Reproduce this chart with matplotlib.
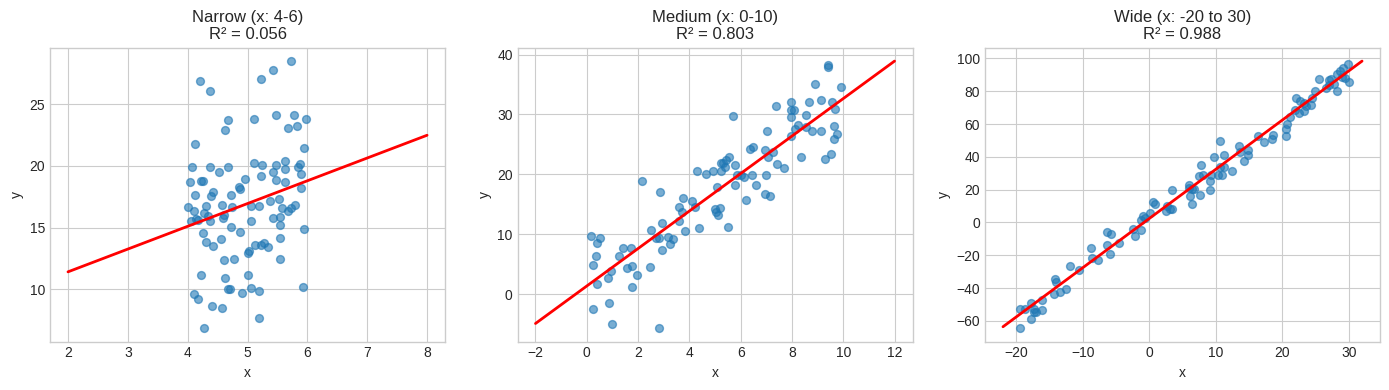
import matplotlib
matplotlib.use('Agg')
import matplotlib.pyplot as plt
import numpy as np

# 三组数据: 窄/中/宽 x 范围
narrow_x = [4.20, 4.38, 4.67, 4.63, 4.13, 4.08, 4.38, 4.67, 4.53, 4.04,
            4.23, 4.26, 4.13, 4.43, 4.39, 4.73, 4.86, 4.88, 4.01, 4.10,
            4.31, 4.57, 4.74, 4.28, 4.34, 4.06, 4.14, 4.17, 4.37, 4.59,
            4.61, 4.73, 4.87, 4.25, 4.55, 4.31, 4.42, 4.61, 4.78, 4.23,
            4.63, 4.67, 4.71, 4.10, 4.18, 4.40, 4.58, 4.28,
            5.73, 5.43, 5.22, 5.10, 5.47, 5.78, 5.98, 5.67, 5.82, 5.95,
            5.10, 5.25, 5.47, 5.63, 5.88, 5.85, 5.62, 5.42, 5.90, 5.23,
            5.47, 5.62, 4.95, 5.90, 5.53, 5.38, 5.05, 5.20, 5.58, 5.80,
            5.73, 5.67, 5.42, 5.55, 5.05, 5.55, 5.95, 5.55, 5.13, 5.22,
            5.28, 5.34, 5.03, 5.00, 5.55, 5.00, 5.05, 5.20, 4.91, 5.93,
            5.20]
narrow_y = [26.87, 26.09, 23.73, 22.92, 21.79, 19.92, 19.92, 19.92, 19.49, 18.67,
            18.78, 18.81, 17.65, 17.86, 17.54, 17.65, 18.27, 18.11, 16.67, 16.35,
            16.75, 16.83, 16.67, 16.19, 15.97, 15.54, 15.70, 15.62, 15.56, 15.75,
            15.99, 15.05, 14.64, 14.56, 14.05, 13.80, 13.51, 12.37, 12.45, 11.13,
            10.96, 9.99, 9.99, 9.66, 9.18, 8.64, 8.47, 6.85,
            28.50, 27.77, 27.03, 23.81, 24.14, 24.14, 23.81, 23.08, 23.25, 21.46,
            20.22, 20.05, 20.05, 20.41, 20.16, 19.92, 19.76, 19.49, 19.32, 19.19,
            18.86, 18.70, 18.94, 18.21, 17.32, 17.13, 16.73, 16.73, 16.59, 16.83,
            16.59, 16.32, 15.78, 15.86, 15.51, 15.21, 14.89, 14.13, 13.59, 13.61,
            13.75, 13.40, 13.10, 12.97, 12.45, 11.13, 10.12, 9.85, 9.69, 10.23,
            7.66]

medium_x = [2.17, 2.86, 4.31, 4.66, 3.75, 4.10, 4.21, 3.61, 3.71, 3.61,
            2.95, 2.52, 3.83, 4.39, 2.68, 2.83, 3.17, 3.38, 3.26, 2.95,
            1.43, 1.71, 1.26, 0.18, 0.53, 0.38, 0.34, 0.26, 0.96, 0.81,
            1.57, 1.75, 1.97, 2.48, 0.38, 1.78, 0.26, 0.88, 1.00, 2.83,
            9.39, 9.42, 8.90, 9.92, 7.38, 7.97, 8.67, 9.14, 9.57, 9.69,
            7.95, 8.09, 7.96, 8.56, 5.70, 8.25, 8.13, 8.53, 8.79, 9.14,
            9.65, 9.77, 9.65, 7.04, 7.97, 6.37, 6.49, 6.95, 7.27, 7.08,
            8.36, 9.30, 9.53, 7.43, 7.70, 5.56, 5.44, 5.32, 5.25, 5.40,
            5.79, 4.94, 5.25, 5.87, 6.02, 6.14, 6.45, 6.99, 5.06, 5.79,
            6.60, 6.95, 7.15, 6.21, 5.00, 5.21, 5.04, 5.13, 5.52]
medium_y = [18.89, 16.99, 20.56, 20.06, 15.99, 15.54, 14.54, 14.54, 13.65, 12.14,
            11.86, 10.64, 10.47, 10.97, 9.35, 9.30, 9.52, 9.13, 8.29, 7.35,
            7.68, 7.68, 6.29, 9.63, 9.35, 8.46, 6.29, 4.84, 3.78, 2.72,
            4.28, 4.67, 3.11, 4.45, 1.61, 1.16, -2.41, -1.57, -4.92, -5.70,
            38.23, 37.89, 35.05, 34.55, 31.37, 32.04, 32.04, 32.37, 32.04, 30.87,
            30.70, 30.70, 29.53, 29.87, 29.70, 28.25, 27.64, 27.86, 27.19, 27.19,
            28.03, 26.69, 25.85, 27.19, 26.41, 24.18, 24.51, 24.07, 23.68, 22.84,
            22.90, 22.51, 23.34, 21.67, 21.06, 22.84, 22.34, 21.84, 21.84, 21.28,
            21.51, 20.56, 20.56, 19.83, 19.83, 19.50, 19.94, 19.83, 17.94, 18.22,
            18.22, 16.71, 16.32, 15.71, 14.20, 14.37, 13.65, 13.14, 11.19]

wide_x = [-19.45, -19.45, -18.7, -17.8, -17.8, -17.3, -17.0, -17.3, -16.2, -16.1,
          -14.2, -14.0, -14.3, -13.5, -12.5, -11.9, -10.6, -8.7, -8.6, -7.7,
          -6.3, -5.7, -6.3, -5.9, -4.5, -2.4, -2.1, -1.2, -1.3, -0.9,
          -0.7, 0.1, 0.6, 0.9, 3.4, 2.6, 2.5, 3.1, 3.4,
          5.98, 5.98, 6.4, 6.1, 6.8, 6.4, 7.6, 7.5, 7.8, 8.1,
          9.2, 9.2, 9.3, 9.8, 10.3, 10.6, 10.6, 10.9, 11.3, 11.3,
          12.4, 13.5, 13.6, 14.2, 14.8, 14.8, 16.3, 17.2, 18.4, 18.6,
          20.5, 20.5, 20.7, 21.1, 21.9, 22.0, 22.5, 22.6, 23.2, 23.2,
          23.6, 24.3, 24.5, 24.9, 25.5, 26.6, 27.1, 27.4, 27.8, 28.2,
          28.3, 28.7, 29.1, 29.4, 29.9, 30.0, 27.0, 29.0]
wide_y = [-64.5, -52.9, -52.5, -49.3, -59.0, -54.4, -54.8, -52.9, -53.3, -47.3,
          -34.7, -36.5, -43.8, -42.6, -40.8, -26.8, -29.2, -15.8, -21.9, -23.1,
          -6.1, -7.3, -14.0, -19.5, -12.8, -3.7, -8.5, -4.9, 1.8, 4.1,
          3.0, 5.7, 12.2, 11.0, 19.7, 10.3, 6.9, 7.9, 8.5,
          23.1, 21.3, 20.1, 16.4, 20.1, 11.2, 17.0, 28.6, 35.3, 29.2,
          25.2, 19.7, 29.2, 40.0, 29.2, 49.9, 33.9, 29.0, 41.4, 34.1,
          31.2, 46.9, 43.0, 37.7, 44.4, 41.2, 52.9, 48.9, 51.1, 53.6,
          52.9, 57.2, 60.2, 64.3, 68.8, 76.1, 66.9, 73.8, 73.0, 67.7,
          70.8, 71.4, 76.1, 80.3, 87.6, 82.1, 86.6, 87.4, 84.6, 80.3,
          90.7, 92.3, 93.9, 88.2, 96.8, 85.8, 84.0, 89.0]

# 拟合直线 (斜率, 截距) 及直线的 x 端点
fit_slope = [1.845, 3.13, 3.0]
fit_intercept = [7.73, 1.35, 2.4]
line_ends = [(2, 8), (-2, 12), (-22, 32)]

titles = ['Narrow (x: 4-6)\nR² = 0.056',
          'Medium (x: 0-10)\nR² = 0.803',
          'Wide (x: -20 to 30)\nR² = 0.988']

plt.style.use('seaborn-v0_8-whitegrid')
fig, axes = plt.subplots(1, 3, figsize=(14, 4), dpi=100)

datasets = [(narrow_x, narrow_y), (medium_x, medium_y), (wide_x, wide_y)]
for i, ax in enumerate(axes):
    x, y = datasets[i]
    ax.scatter(x, y, s=32, alpha=0.6, color='tab:blue')
    # 画出拟合直线
    xl = np.array(line_ends[i])
    ax.plot(xl, fit_slope[i] * xl + fit_intercept[i], color='red', linewidth=2)
    ax.set_title(titles[i])
    ax.set_xlabel('x')
    ax.set_ylabel('y')

plt.tight_layout()
plt.savefig('out.png', bbox_inches='tight')
